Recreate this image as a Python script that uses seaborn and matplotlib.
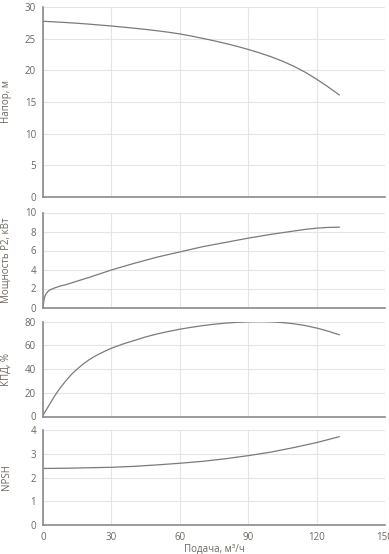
import seaborn as sns
import pandas as pd
import matplotlib.pyplot as plt

# Данные
q_head = [0, 5, 10, 15, 20, 25, 30, 35, 40, 45, 50, 55, 60, 65, 70, 75, 80, 85, 90,
          95, 100, 105, 110, 115, 120, 125, 130]
head = [27.75, 27.65, 27.55, 27.43, 27.3, 27.15, 27.0, 26.83, 26.65, 26.46, 26.25, 26.02,
        25.75, 25.42, 25.05, 24.67, 24.25, 23.8, 23.3, 22.75, 22.15, 21.45, 20.65, 19.7,
        18.6, 17.4, 16.1]

q_power = [0, 0.5, 1, 2, 3, 5, 7.5, 10, 15, 20, 30, 40, 50, 60, 70, 80, 90, 100, 110,
           115, 120, 125, 130]
power = [0, 0.9, 1.3, 1.65, 1.85, 2.05, 2.25, 2.4, 2.78, 3.15, 3.95, 4.65, 5.3, 5.85,
         6.4, 6.85, 7.3, 7.7, 8.05, 8.22, 8.35, 8.43, 8.46]

q_eff = [0, 2.5, 5, 7.5, 10, 12.5, 15, 17.5, 20, 22.5, 25, 27.5, 30, 35, 40, 45, 50, 55,
         60, 65, 70, 75, 80, 85, 90, 95, 100, 105, 110, 115, 120, 125, 130]
eff = [1, 9, 17, 24, 30, 35.5, 40, 44, 47.5, 50.5, 53, 55.3, 57.5, 61, 64, 67, 69.5, 71.6,
       73.5, 75.1, 76.5, 77.7, 78.6, 79.3, 79.7, 79.9, 79.7, 79.1, 78.1, 76.6, 74.5, 71.9, 68.8]

q_npsh = [0, 10, 20, 30, 40, 50, 60, 70, 80, 90, 100, 110, 120, 130]
npsh = [2.38, 2.39, 2.41, 2.43, 2.47, 2.53, 2.6, 2.68, 2.79, 2.92, 3.07, 3.26, 3.47, 3.72]

x_ticks = [0, 30, 60, 90, 120, 150]

sns.set_style("whitegrid")
plt.rcParams['font.family'] = ['Open Sans', 'DejaVu Sans']

fig = plt.figure(figsize=(3.89, 5.54), dpi=100)
W, H = 389, 554
left, right = 43, 385

# (верх, низ) в пикселях для каждой панели
boxes = [(7, 197), (212.5, 307.5), (321.5, 416.5), (430, 525)]
panels = [
    (q_head, head, "Напор, м", (0, 30), range(0, 31, 5)),
    (q_power, power, "Мощность P2, кВт", (0, 10), range(0, 11, 2)),
    (q_eff, eff, "КПД, %", (0, 80), range(0, 81, 20)),
    (q_npsh, npsh, "NPSH", (0, 4), range(0, 5, 1)),
]

txt_color = "#6e665e"
for i, ((top, bot), (xs, ys, lab, ylim, yt)) in enumerate(zip(boxes, panels)):
    ax = fig.add_axes([left / W, 1 - bot / H, (right - left) / W, (bot - top) / H])
    df = pd.DataFrame({"q": xs, "v": ys})
    sns.lineplot(data=df, x="q", y="v", ax=ax, color="#7a7a7a", linewidth=0.9)
    ax.set_xlim(0, 150)
    ax.set_ylim(*ylim)
    ax.set_xticks(x_ticks)
    ax.set_yticks(list(yt))
    ax.grid(True, color="#e4e4ea", linewidth=0.8)
    for s in ["top", "right"]:
        ax.spines[s].set_visible(False)
    for s in ["left", "bottom"]:
        ax.spines[s].set_color("#8a8a8a")
        ax.spines[s].set_linewidth(1.2)
    ax.tick_params(axis="both", length=4, width=0.8, color="#8a8a8a",
                   labelsize=7, labelcolor=txt_color, pad=1)
    ax.set_ylabel(lab, fontsize=7, color=txt_color)
    ax.yaxis.set_label_coords(-0.09, 0.5)
    if i < 3:
        ax.set_xticklabels([])
        ax.set_xlabel("")
    else:
        ax.set_xlabel("Подача, м³/ч", fontsize=7, color=txt_color, labelpad=1)

fig.savefig("out.png", dpi=100)
